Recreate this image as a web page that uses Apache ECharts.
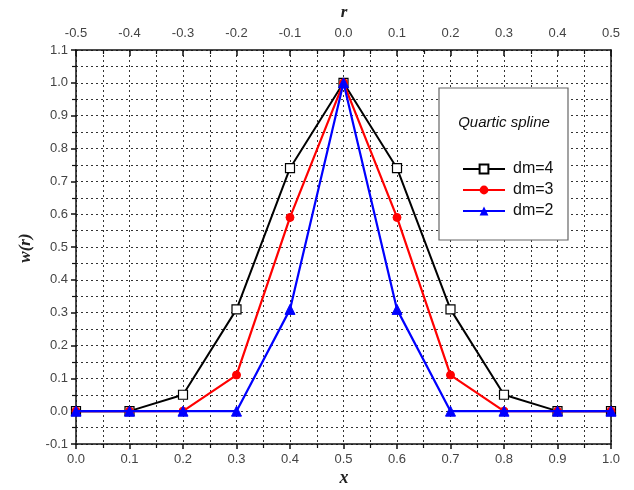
<!DOCTYPE html>
<html><head><meta charset="utf-8">
<script src="https://cdn.jsdelivr.net/npm/echarts@6/dist/echarts.min.js"></script>
<style>html,body{margin:0;padding:0;background:#fff}#c{width:634px;height:490px}</style>
</head><body><div id="c"></div>
<script>
const xValues = [0.0, 0.1, 0.2, 0.3, 0.4, 0.5, 0.6, 0.7, 0.8, 0.9, 1.0];
const dm4 = [0, 0, 0.05, 0.31, 0.74, 1.0, 0.74, 0.31, 0.05, 0, 0];
const dm3 = [0, 0, 0, 0.11, 0.59, 1.0, 0.59, 0.11, 0, 0, 0];
const dm2 = [0, 0, 0, 0, 0.31, 1.0, 0.31, 0, 0, 0, 0];
const seriesNames = ['dm=4', 'dm=3', 'dm=2'];
const legendTitle = 'Quartic spline';
const xTitle = 'x', topTitle = 'r', yTitle = 'w(r)';

const pair = (ys) => xValues.map((x, i) => [x, ys[i]]);
const chart = echarts.init(document.getElementById('c'));
const lblStyle = { color: '#444', fontFamily: 'Liberation Sans', fontSize: 13 };
const gridLine = { show: true, lineStyle: { color: '#333', type: [2, 3], width: 1 } };
const axLine = { show: true, onZero: false, lineStyle: { color: '#111', width: 1.5 } };
const fmt = v => (Math.abs(v) < 1e-9 ? 0 : v).toFixed(1);
chart.setOption({
  animation: false,
  grid: { left: 76, top: 50, width: 535, height: 394 },
  xAxis: [
    { type: 'value', min: 0, max: 1, interval: 0.1, position: 'bottom',
      axisLine: axLine, axisTick: { show: true, inside: false, length: 5, lineStyle: { color: '#111', width: 1.5 } },
      minorTick: { show: true, splitNumber: 2, length: 4, lineStyle: { color: '#111', width: 1.2 } },
      splitLine: gridLine, minorSplitLine: gridLine,
      axisLabel: Object.assign({ margin: 9, formatter: fmt }, lblStyle) },
    { type: 'value', min: -0.5, max: 0.5, interval: 0.1, position: 'top',
      axisLine: axLine, axisTick: { show: true, inside: true, length: 6, lineStyle: { color: '#111', width: 1.5 } },
      minorTick: { show: true, splitNumber: 2, length: 4, lineStyle: { color: '#111', width: 1.2 } },
      splitLine: { show: false },
      axisLabel: Object.assign({ margin: 10, formatter: fmt }, lblStyle) }
  ],
  yAxis: [
    { type: 'value', min: -0.1, max: 1.1, interval: 0.1, position: 'left',
      axisLine: axLine, axisTick: { show: true, inside: false, length: 5, lineStyle: { color: '#111', width: 1.5 } },
      minorTick: { show: true, splitNumber: 2, length: 4, lineStyle: { color: '#111', width: 1.2 } },
      splitLine: gridLine, minorSplitLine: gridLine,
      axisLabel: Object.assign({ margin: 8, formatter: fmt }, lblStyle) },
    { type: 'value', min: -0.1, max: 1.1, interval: 0.1, position: 'right',
      axisLine: axLine, axisTick: { show: false }, splitLine: { show: false }, axisLabel: { show: false } }
  ],
  legend: {
    data: seriesNames, orient: 'vertical', left: 457, top: 156, itemWidth: 42, itemHeight: 11, itemGap: 5, z: 30,
    textStyle: { fontFamily: 'Liberation Sans', fontSize: 16, color: '#111', padding: [0, 0, 0, 3] }
  },
  graphic: [
    { type: 'rect', shape: { x: 439, y: 88, width: 129, height: 152 }, style: { fill: '#fff', stroke: '#666', lineWidth: 1.2 }, z: 10 },
    { type: 'text', x: 504, y: 123, style: { text: legendTitle, fill: '#111', font: 'italic 15px "Liberation Sans"', textAlign: 'center', textVerticalAlign: 'middle' }, z: 11 },
    { type: 'text', x: 344, y: 13, style: { text: topTitle, fill: '#222', font: 'italic bold 17px "Liberation Serif"', textAlign: 'center', textVerticalAlign: 'middle' } },
    { type: 'text', x: 344, y: 478, style: { text: xTitle, fill: '#222', font: 'italic bold 18px "Liberation Serif"', textAlign: 'center', textVerticalAlign: 'middle' } },
    { type: 'text', x: 26, y: 248, rotation: Math.PI / 2, style: { text: yTitle, fill: '#222', font: 'italic bold 17px "Liberation Serif"', textAlign: 'center', textVerticalAlign: 'middle' } }
  ],
  series: [
    { name: seriesNames[0], type: 'line', data: pair(dm4), symbol: 'rect', symbolSize: 9,
      lineStyle: { color: '#000', width: 2 }, itemStyle: { color: '#fff', borderColor: '#000', borderWidth: 1.2 }, z: 3 },
    { name: seriesNames[1], type: 'line', data: pair(dm3), symbol: 'circle', symbolSize: 8,
      lineStyle: { color: '#f00', width: 2.2 }, itemStyle: { color: '#f00', borderColor: '#f00' }, z: 4 },
    { name: seriesNames[2], type: 'line', data: pair(dm2), symbol: 'triangle', symbolSize: 10,
      lineStyle: { color: '#00f', width: 2.2 }, itemStyle: { color: '#00f', borderColor: '#00f' }, z: 5 }
  ]
});
</script></body></html>
